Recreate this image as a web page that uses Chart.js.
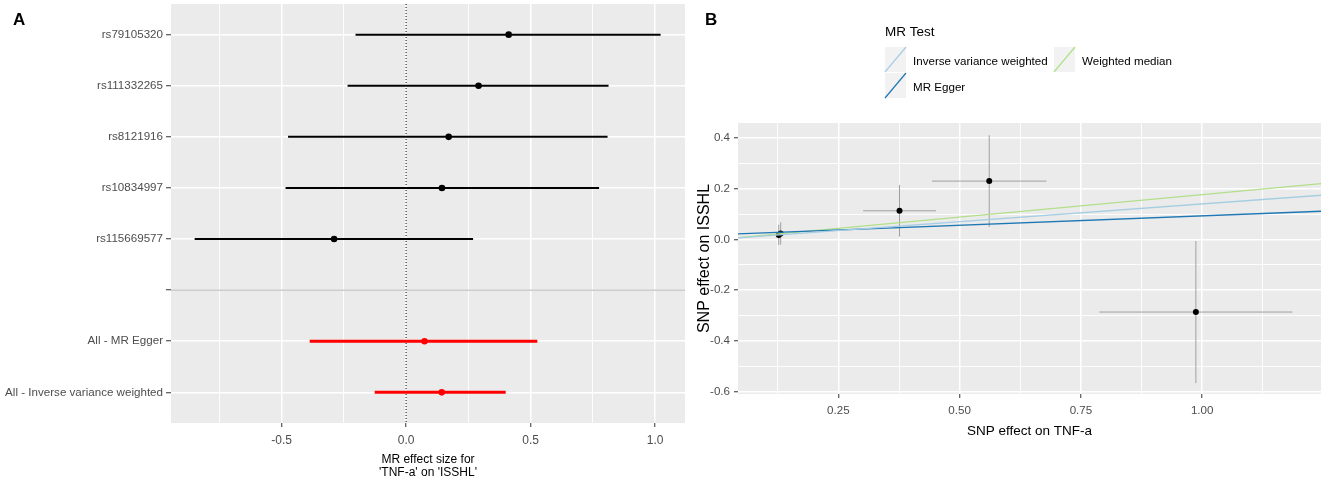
<!DOCTYPE html>
<html>
<head>
<meta charset="utf-8">
<script src="https://cdn.jsdelivr.net/npm/chart.js@4.4.1/dist/chart.umd.min.js"></script>
<style>
  body { margin: 0; background: #fff; width: 1325px; height: 482px; position: relative; overflow: hidden; }
  canvas { position: absolute; top: 0; }
  #forest { left: 0; }
  #scatter { left: 690px; }
  .tag { position: absolute; z-index: 2; font: bold 17px "Liberation Sans", Arial, sans-serif; }
</style>
</head>
<body>
<div class="tag" style="left:13px;top:10px">A</div>
<div class="tag" style="left:705px;top:10px">B</div>
<canvas id="forest" width="690" height="482"></canvas>
<canvas id="scatter" width="635" height="482"></canvas>
<script>
// panel A - single SNP wald ratios + summary estimates
const snps = ["rs79105320", "rs111332265", "rs8121916", "rs10834997", "rs115669577"];
const snpEffect = [0.412, 0.291, 0.171, 0.144, -0.289];
const snpLower = [-0.203, -0.235, -0.474, -0.484, -0.849];
const snpUpper = [1.022, 0.813, 0.809, 0.775, 0.269];

const summaryNames = ["All - MR Egger", "All - Inverse variance weighted"];
const summaryEffect = [0.074, 0.143];
const summaryLower = [-0.387, -0.126];
const summaryUpper = [0.527, 0.400];

const forestTicks = [-0.75, -0.5, -0.25, 0, 0.25, 0.5, 0.75, 1.0];
const forestTickLabels = ["", "-0.5", "", "0.0", "", "0.5", "", "1.0"];
const forestMin = -0.944, forestMax = 1.12;

// panel B - SNP effects on exposure / outcome
const exposureBeta = [0.131, 0.127, 0.376, 0.561, 0.987];
const exposureSe = [0.006, 0.006, 0.075, 0.118, 0.199];
const outcomeBeta = [0.024, 0.018, 0.113, 0.230, -0.286];
const outcomeSe = [0.044, 0.040, 0.102, 0.181, 0.280];

const methods = ["Inverse variance weighted", "MR Egger", "Weighted median"];
const methodSlope = [0.14, 0.074, 0.177];
const methodIntercept = [0, 0.019, 0];

const scatterXTicks = [0.125, 0.25, 0.375, 0.5, 0.625, 0.75, 0.875, 1.0, 1.125];
const scatterXLabels = ["", "0.25", "", "0.50", "", "0.75", "", "1.00", ""];
const scatterYTicks = [-0.6, -0.5, -0.4, -0.3, -0.2, -0.1, 0, 0.1, 0.2, 0.3, 0.4];
const scatterYLabels = ["-0.6", "", "-0.4", "", "-0.2", "", "0.0", "", "0.2", "", "0.4"];
const scatterXMin = 0.043, scatterXMax = 1.245;
const scatterYMin = -0.609, scatterYMax = 0.459;

const methodColors = ["#a6cee3", "#1f78b4", "#b2df8a"];
const FONT = '"Liberation Sans", Arial, sans-serif';

Chart.defaults.font.family = FONT;
Chart.defaults.animation = false;

const panelBg = {
  id: "panelBg",
  beforeDraw(chart) {
    const a = chart.chartArea, ctx = chart.ctx;
    ctx.save();
    ctx.fillStyle = "#ebebeb";
    ctx.fillRect(a.left, a.top, a.right - a.left, a.bottom - a.top);
    ctx.restore();
  }
};

const seg = (pts, color, width, order) => ({
  data: pts, showLine: true, borderColor: color, borderWidth: width,
  pointRadius: 0, order: order
});

const gridFor = labels => ({
  color: "#fff",
  lineWidth: c => labels[c.index] === "" ? 0.9 : 1.5,
  tickLength: 4,
  tickWidth: 1,
  tickColor: c => labels[c.index] === "" ? "rgba(0,0,0,0)" : "#333"
});

// fixed axis box size, no extra label padding around the plot
const fixBox = (w, h) => s => {
  if (w) s.width = w;
  if (h) s.height = h;
  s.paddingTop = 0; s.paddingBottom = 0; s.paddingLeft = 0; s.paddingRight = 0;
};

// ---------- A ----------
const rowLabels = snps.concat([""], summaryNames);
const forestSets = [];

snps.forEach((s, i) => {
  forestSets.push(seg([{ x: snpLower[i], y: i + 1 }, { x: snpUpper[i], y: i + 1 }], "#000", 2, 1));
});
summaryNames.forEach((s, i) => {
  const row = snps.length + 2 + i;
  forestSets.push(seg([{ x: summaryLower[i], y: row }, { x: summaryUpper[i], y: row }], "#ff0000", 3, 1));
});
forestSets.push({
  data: snpEffect.map((v, i) => ({ x: v, y: i + 1 })),
  pointRadius: 3.3, backgroundColor: "#000", borderWidth: 0, order: 0
});
forestSets.push({
  data: summaryEffect.map((v, i) => ({ x: v, y: snps.length + 2 + i })),
  pointRadius: 3.3, backgroundColor: "#ff0000", borderWidth: 0, order: 0
});
// blank separator row and zero line
const sepRow = snps.length + 1;
forestSets.push(seg([{ x: forestMin, y: sepRow }, { x: forestMax, y: sepRow }], "#bebebe", 1.4, 2));
forestSets.push(Object.assign(seg([{ x: 0, y: 0.4 }, { x: 0, y: rowLabels.length + 0.6 }], "#000", 1, 2), { borderDash: [1, 2] }));

new Chart(document.getElementById("forest"), {
  type: "scatter",
  data: { datasets: forestSets },
  options: {
    responsive: false,
    layout: { padding: { top: 4, right: 5, bottom: 0, left: 0 } },
    plugins: { legend: { display: false }, tooltip: { enabled: false } },
    scales: {
      x: {
        type: "linear", min: forestMin, max: forestMax,
        afterBuildTicks: s => { s.ticks = forestTicks.map(v => ({ value: v })); },
        afterFit: fixBox(0, 59),
        ticks: {
          callback: (v, i) => forestTickLabels[i],
          color: "#4d4d4d", font: { size: 12 }, padding: 6,
          autoSkip: false, maxRotation: 0
        },
        grid: gridFor(forestTickLabels),
        border: { display: false },
        title: {
          display: true, text: ["MR effect size for", "'TNF-a' on 'ISSHL'"],
          color: "#000", font: { size: 12, lineHeight: 1.1 }, padding: { top: 0, bottom: 2.5 }
        }
      },
      y: {
        type: "linear", min: 0.4, max: rowLabels.length + 0.6, reverse: true,
        afterBuildTicks: s => { s.ticks = rowLabels.map((_, i) => ({ value: i + 1 })); },
        afterFit: fixBox(171, 0),
        ticks: {
          callback: v => rowLabels[v - 1],
          color: "#4d4d4d", font: { size: 11.6 }, padding: 3, autoSkip: false
        },
        grid: { color: "#fff", lineWidth: 1.5, tickLength: 5, tickColor: "#333", tickWidth: 1 },
        border: { display: false }
      }
    }
  },
  plugins: [panelBg]
});

// ---------- B ----------
const mrLegend = {
  id: "mrLegend",
  afterDraw(chart) {
    const ctx = chart.ctx;
    const slots = [[195, 47], [195, 73], [364, 47]];
    ctx.save();
    ctx.textBaseline = "middle";
    ctx.fillStyle = "#000";
    ctx.font = "13.5px " + FONT;
    ctx.fillText("MR Test", 195, 32);
    methods.forEach((m, i) => {
      const [kx, ky] = slots[i];
      ctx.fillStyle = "#f2f2f2";
      ctx.fillRect(kx, ky, 21, 25);
      ctx.strokeStyle = methodColors[i];
      ctx.lineWidth = 1.2;
      ctx.beginPath();
      ctx.moveTo(kx, ky + 25);
      ctx.lineTo(kx + 21, ky);
      ctx.stroke();
      ctx.fillStyle = "#000";
      ctx.font = "11.6px " + FONT;
      ctx.fillText(m, kx + 28, ky + 15);
    });
    ctx.restore();
  }
};

const scatterSets = [];
methods.forEach((m, i) => {
  scatterSets.push(seg([scatterXMin, scatterXMax].map(x => ({ x: x, y: methodIntercept[i] + methodSlope[i] * x })),
    methodColors[i], 1.3, 0));
});
exposureBeta.forEach((bx, i) => {
  const by = outcomeBeta[i];
  scatterSets.push(seg([{ x: bx - exposureSe[i], y: by }, { x: bx + exposureSe[i], y: by }], "#a0a0a0", 1, 2));
  scatterSets.push(seg([{ x: bx, y: by - outcomeSe[i] }, { x: bx, y: by + outcomeSe[i] }], "#a0a0a0", 1, 2));
});
scatterSets.push({
  data: exposureBeta.map((v, i) => ({ x: v, y: outcomeBeta[i] })),
  pointRadius: 3, backgroundColor: "#000", borderWidth: 0, order: 1
});

new Chart(document.getElementById("scatter"), {
  type: "scatter",
  data: { datasets: scatterSets },
  options: {
    responsive: false,
    layout: { padding: { top: 123, right: 3, bottom: 42, left: 0 } },
    plugins: { legend: { display: false }, tooltip: { enabled: false } },
    scales: {
      x: {
        type: "linear", min: scatterXMin, max: scatterXMax,
        afterBuildTicks: s => { s.ticks = scatterXTicks.map(v => ({ value: v })); },
        afterFit: fixBox(0, 46),
        ticks: {
          callback: (v, i) => scatterXLabels[i],
          color: "#4d4d4d", font: { size: 11.6 }, padding: 6,
          autoSkip: false, maxRotation: 0
        },
        grid: gridFor(scatterXLabels),
        border: { display: false },
        title: {
          display: true, text: "SNP effect on TNF-a",
          color: "#000", font: { size: 13.5 }, padding: { top: 0, bottom: 1 }
        }
      },
      y: {
        type: "linear", min: scatterYMin, max: scatterYMax,
        afterBuildTicks: s => { s.ticks = scatterYTicks.map(v => ({ value: v })); },
        afterFit: fixBox(48, 0),
        ticks: {
          callback: (v, i) => scatterYLabels[i],
          color: "#4d4d4d", font: { size: 11.6 }, padding: 4, autoSkip: false
        },
        grid: gridFor(scatterYLabels),
        border: { display: false },
        title: {
          display: true, text: "SNP effect on ISSHL",
          color: "#000", font: { size: 16 }, padding: { top: 5, bottom: 0 }
        }
      }
    }
  },
  plugins: [panelBg, mrLegend]
});
</script>
</body>
</html>
